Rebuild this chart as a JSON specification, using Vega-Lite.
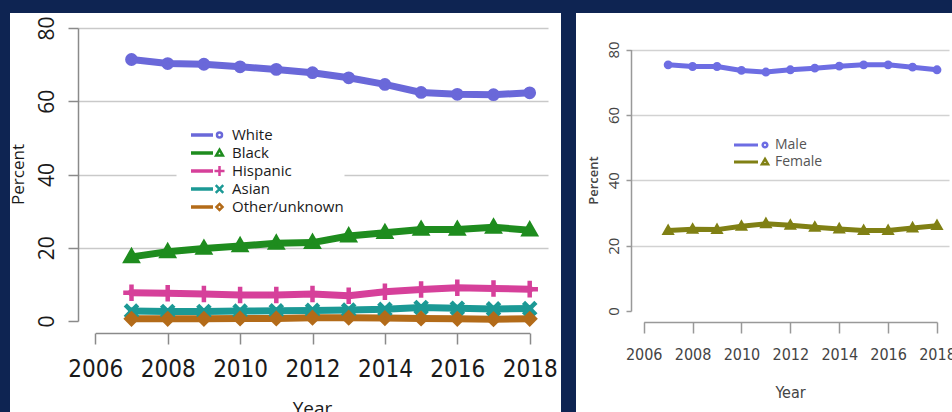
{
  "$schema": "https://vega.github.io/schema/vega-lite/v6.json",
  "background": "#0e2452",
  "padding": {"left": 9, "top": 13, "right": 0, "bottom": 0},
  "spacing": 15,
  "bounds": "flush",
  "datasets": {
    "race": [
      {"Year": 2007, "Group": "White", "Percent": 71.4}, {"Year": 2008, "Group": "White", "Percent": 70.3}, {"Year": 2009, "Group": "White", "Percent": 70.1}, {"Year": 2010, "Group": "White", "Percent": 69.4}, {"Year": 2011, "Group": "White", "Percent": 68.7}, {"Year": 2012, "Group": "White", "Percent": 67.8}, {"Year": 2013, "Group": "White", "Percent": 66.4}, {"Year": 2014, "Group": "White", "Percent": 64.6}, {"Year": 2015, "Group": "White", "Percent": 62.4}, {"Year": 2016, "Group": "White", "Percent": 61.9}, {"Year": 2017, "Group": "White", "Percent": 61.8}, {"Year": 2018, "Group": "White", "Percent": 62.3},
      {"Year": 2007, "Group": "Black", "Percent": 17.5}, {"Year": 2008, "Group": "Black", "Percent": 18.9}, {"Year": 2009, "Group": "Black", "Percent": 19.8}, {"Year": 2010, "Group": "Black", "Percent": 20.5}, {"Year": 2011, "Group": "Black", "Percent": 21.2}, {"Year": 2012, "Group": "Black", "Percent": 21.4}, {"Year": 2013, "Group": "Black", "Percent": 23.2}, {"Year": 2014, "Group": "Black", "Percent": 24.1}, {"Year": 2015, "Group": "Black", "Percent": 25.0}, {"Year": 2016, "Group": "Black", "Percent": 25.0}, {"Year": 2017, "Group": "Black", "Percent": 25.6}, {"Year": 2018, "Group": "Black", "Percent": 24.8},
      {"Year": 2007, "Group": "Hispanic", "Percent": 7.7}, {"Year": 2008, "Group": "Hispanic", "Percent": 7.6}, {"Year": 2009, "Group": "Hispanic", "Percent": 7.4}, {"Year": 2010, "Group": "Hispanic", "Percent": 7.1}, {"Year": 2011, "Group": "Hispanic", "Percent": 7.1}, {"Year": 2012, "Group": "Hispanic", "Percent": 7.4}, {"Year": 2013, "Group": "Hispanic", "Percent": 6.9}, {"Year": 2014, "Group": "Hispanic", "Percent": 8.0}, {"Year": 2015, "Group": "Hispanic", "Percent": 8.6}, {"Year": 2016, "Group": "Hispanic", "Percent": 9.1}, {"Year": 2017, "Group": "Hispanic", "Percent": 8.9}, {"Year": 2018, "Group": "Hispanic", "Percent": 8.7},
      {"Year": 2007, "Group": "Asian", "Percent": 2.7}, {"Year": 2008, "Group": "Asian", "Percent": 2.6}, {"Year": 2009, "Group": "Asian", "Percent": 2.6}, {"Year": 2010, "Group": "Asian", "Percent": 2.7}, {"Year": 2011, "Group": "Asian", "Percent": 2.8}, {"Year": 2012, "Group": "Asian", "Percent": 2.9}, {"Year": 2013, "Group": "Asian", "Percent": 3.0}, {"Year": 2014, "Group": "Asian", "Percent": 3.2}, {"Year": 2015, "Group": "Asian", "Percent": 3.7}, {"Year": 2016, "Group": "Asian", "Percent": 3.5}, {"Year": 2017, "Group": "Asian", "Percent": 3.3}, {"Year": 2018, "Group": "Asian", "Percent": 3.4},
      {"Year": 2007, "Group": "Other/unknown", "Percent": 0.6}, {"Year": 2008, "Group": "Other/unknown", "Percent": 0.6}, {"Year": 2009, "Group": "Other/unknown", "Percent": 0.6}, {"Year": 2010, "Group": "Other/unknown", "Percent": 0.7}, {"Year": 2011, "Group": "Other/unknown", "Percent": 0.7}, {"Year": 2012, "Group": "Other/unknown", "Percent": 0.9}, {"Year": 2013, "Group": "Other/unknown", "Percent": 0.9}, {"Year": 2014, "Group": "Other/unknown", "Percent": 0.8}, {"Year": 2015, "Group": "Other/unknown", "Percent": 0.7}, {"Year": 2016, "Group": "Other/unknown", "Percent": 0.6}, {"Year": 2017, "Group": "Other/unknown", "Percent": 0.5}, {"Year": 2018, "Group": "Other/unknown", "Percent": 0.6}
    ],
    "sex": [
      {"Year": 2007, "Sex": "Male", "Percent": 75.3}, {"Year": 2008, "Sex": "Male", "Percent": 74.8}, {"Year": 2009, "Sex": "Male", "Percent": 74.8}, {"Year": 2010, "Sex": "Male", "Percent": 73.6}, {"Year": 2011, "Sex": "Male", "Percent": 73.1}, {"Year": 2012, "Sex": "Male", "Percent": 73.8}, {"Year": 2013, "Sex": "Male", "Percent": 74.3}, {"Year": 2014, "Sex": "Male", "Percent": 74.9}, {"Year": 2015, "Sex": "Male", "Percent": 75.3}, {"Year": 2016, "Sex": "Male", "Percent": 75.3}, {"Year": 2017, "Sex": "Male", "Percent": 74.6}, {"Year": 2018, "Sex": "Male", "Percent": 73.8},
      {"Year": 2007, "Sex": "Female", "Percent": 24.6}, {"Year": 2008, "Sex": "Female", "Percent": 25.0}, {"Year": 2009, "Sex": "Female", "Percent": 24.9}, {"Year": 2010, "Sex": "Female", "Percent": 25.9}, {"Year": 2011, "Sex": "Female", "Percent": 26.7}, {"Year": 2012, "Sex": "Female", "Percent": 26.2}, {"Year": 2013, "Sex": "Female", "Percent": 25.6}, {"Year": 2014, "Sex": "Female", "Percent": 25.1}, {"Year": 2015, "Sex": "Female", "Percent": 24.6}, {"Year": 2016, "Sex": "Female", "Percent": 24.6}, {"Year": 2017, "Sex": "Female", "Percent": 25.4}, {"Year": 2018, "Sex": "Female", "Percent": 26.1}
    ]
  },
  "hconcat": [
    {
      "width": 551,
      "height": 399,
      "view": {"fill": "white", "stroke": null},
      "data": {"name": "race"},
      "layer": [
        {
          "mark": {"type": "point", "opacity": 0},
          "encoding": {
            "x": {"field": "Year", "type": "quantitative", "scale": {"domain": [2006, 2018], "range": [68, 538], "nice": false, "zero": false}, "axis": null},
            "y": {"field": "Percent", "type": "quantitative", "scale": {"domain": [0, 80], "range": [308, 15], "nice": false}, "axis": {"orient": "left", "values": [20, 40, 60, 80], "grid": true, "domain": false, "ticks": false, "labels": false, "title": null, "gridColor": "#c9c9c9", "gridWidth": 1.5, "gridDash": {"condition": {"test": "datum.value === 40", "value": [98, 168, 204]}, "value": []}}}
          }
        },
        {
          "layer": [
            {
              "mark": {"type": "line", "strokeWidth": 7, "strokeCap": "round", "strokeJoin": "round"},
              "encoding": {
                "x": {"field": "Year", "type": "quantitative", "scale": {"domain": [2006, 2018], "range": [85.3, 519.7], "nice": false, "zero": false},
                  "axis": {"orient": "bottom", "offset": -79, "values": [2006, 2008, 2010, 2012, 2014, 2016, 2018], "format": "d", "grid": false, "domainColor": "#8a8a8a", "domainWidth": 1.5, "tickColor": "#8a8a8a", "tickWidth": 1.5, "tickSize": 11, "labelFont": "Liberation Sans Narrow, DejaVu Sans Condensed, sans-serif", "labelFontSize": 24, "labelColor": "#1a1a1a", "labelPadding": 13, "labelFlush": false, "labelOverlap": false, "title": "Year", "titleFont": "Open Sans", "titleFontSize": 19, "titleFontWeight": "normal", "titleColor": "#1a1a1a", "titleX": 302, "titleY": 66, "titleBaseline": "top", "titleAlign": "center"}},
                "y": {"field": "Percent", "type": "quantitative", "scale": {"domain": [0, 80], "range": [308, 15], "nice": false},
                  "axis": {"orient": "left", "offset": -68, "values": [0, 20, 40, 60, 80], "grid": false, "domainColor": "#8a8a8a", "domainWidth": 1.5, "tickColor": "#8a8a8a", "tickWidth": 1.5, "tickSize": 10, "labelAngle": -90, "labelAlign": "center", "labelBaseline": "middle", "labelPadding": 21, "labelFont": "Open Sans", "labelFontSize": 21, "labelColor": "#1a1a1a", "title": "Percent", "titleFont": "Open Sans", "titleFontSize": 17, "titleFontWeight": "normal", "titleColor": "#1a1a1a", "titleAngle": -90, "titleX": -60, "titleY": 161, "titleAlign": "center", "titleBaseline": "middle"}},
                "stroke": {"field": "Group", "type": "nominal", "sort": ["White", "Black", "Hispanic", "Asian", "Other/unknown"], "scale": {"range": ["#6a68d9", "#1e8c1e", "#d6409a", "#1b9995", "#b36b19"]},
                  "legend": {"orient": "none", "legendX": 179, "legendY": 113, "title": null, "padding": 0, "rowPadding": 0, "clipHeight": 18, "symbolType": "stroke", "symbolSize": 484, "symbolStrokeWidth": 3.5, "labelOpacity": 0, "labelFont": "Open Sans", "labelFontSize": 15}}
              }
            },
            {
              "mark": {"type": "point", "filled": false, "strokeWidth": 4.5, "size": 190, "opacity": 1},
              "encoding": {
                "x": {"field": "Year", "type": "quantitative", "scale": {"domain": [2006, 2018], "range": [85.3, 519.7], "nice": false, "zero": false}},
                "y": {"field": "Percent", "type": "quantitative", "scale": {"domain": [0, 80], "range": [308, 15], "nice": false}},
                "color": {"field": "Group", "type": "nominal", "scale": {"domain": ["White", "Black", "Hispanic", "Asian", "Other/unknown"], "range": ["#6a68d9", "#1e8c1e", "#d6409a", "#1b9995", "#b36b19"]},
                  "legend": {"orient": "none", "legendX": 202, "legendY": 113, "title": null, "padding": 0, "rowPadding": 0, "clipHeight": 18, "symbolSize": 70, "symbolStrokeWidth": 2.5, "labelFont": "Open Sans", "labelFontSize": 15, "labelColor": "#1a1a1a", "labelOffset": 5, "labelLimit": 0}},
                "shape": {"field": "Group", "type": "nominal", "scale": {"domain": ["White", "Black", "Hispanic", "Asian", "Other/unknown"], "range": ["M0.6,0A0.6,0.6,0,1,1,-0.6,0A0.6,0.6,0,1,1,0.6,0Z", "M0,-0.8L0.8,0.6L-0.8,0.6Z", "M-1.2,0L1.2,0M0,-1.2L0,1.2", "M-0.9,-0.9L0.9,0.9M-0.9,0.9L0.9,-0.9", "M0,-0.72L0.72,0L0,0.72L-0.72,0Z"]},
                  "legend": {"orient": "none", "legendX": 202, "legendY": 113, "title": null, "padding": 0, "rowPadding": 0, "clipHeight": 18, "symbolSize": 70, "symbolStrokeWidth": 2.5, "labelFont": "Open Sans", "labelFontSize": 15, "labelColor": "#1a1a1a", "labelOffset": 5, "labelLimit": 0}}
              }
            }
          ]
        }
      ],
      "resolve": {"scale": {"x": "independent", "y": "independent"}, "axis": {"x": "independent", "y": "independent"}}
    },
    {
      "width": 377,
      "height": 399,
      "view": {"fill": "white", "stroke": null},
      "data": {"name": "sex"},
      "layer": [
        {
          "mark": {"type": "point", "opacity": 0},
          "encoding": {
            "x": {"field": "Year", "type": "quantitative", "scale": {"domain": [2006, 2018], "range": [55, 373], "nice": false, "zero": false}, "axis": null},
            "y": {"field": "Percent", "type": "quantitative", "scale": {"domain": [0, 80], "range": [298, 36.5], "nice": false}, "axis": {"orient": "left", "values": [20, 40, 60, 80], "grid": true, "domain": false, "ticks": false, "labels": false, "title": null, "gridColor": "#d2d2d2", "gridWidth": 1.5}}
          }
        },
        {
          "layer": [
            {
              "mark": {"type": "line", "strokeWidth": 5, "strokeCap": "round", "strokeJoin": "round"},
              "encoding": {
                "x": {"field": "Year", "type": "quantitative", "scale": {"domain": [2006, 2018], "range": [67.7, 361], "nice": false, "zero": false},
                  "axis": {"orient": "bottom", "offset": -90, "values": [2006, 2008, 2010, 2012, 2014, 2016, 2018], "format": "d", "grid": false, "domainColor": "#999999", "domainWidth": 1.5, "tickColor": "#999999", "tickWidth": 1.5, "tickSize": 11, "labelFont": "Liberation Sans Narrow, DejaVu Sans Condensed, sans-serif", "labelFontSize": 16, "labelColor": "#444444", "labelPadding": 13, "labelFlush": false, "labelOverlap": false, "title": "Year", "titleFont": "Liberation Sans Narrow, DejaVu Sans Condensed, sans-serif", "titleFontSize": 16, "titleFontWeight": "normal", "titleColor": "#444444", "titleX": 214, "titleY": 70, "titleBaseline": "middle", "titleAlign": "center"}},
                "y": {"field": "Percent", "type": "quantitative", "scale": {"domain": [0, 80], "range": [298, 36.5], "nice": false},
                  "axis": {"orient": "left", "offset": -55, "values": [0, 20, 40, 60, 80], "grid": false, "domainColor": "#999999", "domainWidth": 1.5, "tickColor": "#999999", "tickWidth": 1.5, "tickSize": 5, "labelAngle": -90, "labelAlign": "center", "labelBaseline": "middle", "labelPadding": 13, "labelFont": "Open Sans", "labelFontSize": 15, "labelColor": "#444444", "title": "Percent", "titleFont": "Open Sans", "titleFontSize": 13, "titleFontWeight": 600, "titleColor": "#444444", "titleAngle": -90, "titleX": -38, "titleY": 167, "titleAlign": "center", "titleBaseline": "middle"}},
                "stroke": {"field": "Sex", "type": "nominal", "sort": ["Male", "Female"], "scale": {"range": ["#6d6de3", "#808014"]},
                  "legend": {"orient": "none", "legendX": 156.5, "legendY": 123.5, "title": null, "padding": 0, "rowPadding": 0, "clipHeight": 17, "symbolType": "stroke", "symbolSize": 576, "symbolStrokeWidth": 3, "labelOpacity": 0, "labelFont": "Open Sans", "labelFontSize": 14}}
              }
            },
            {
              "mark": {"type": "point", "filled": false, "strokeWidth": 3.5, "size": 80, "opacity": 1},
              "encoding": {
                "x": {"field": "Year", "type": "quantitative", "scale": {"domain": [2006, 2018], "range": [67.7, 361], "nice": false, "zero": false}},
                "y": {"field": "Percent", "type": "quantitative", "scale": {"domain": [0, 80], "range": [298, 36.5], "nice": false}},
                "color": {"field": "Sex", "type": "nominal", "scale": {"domain": ["Male", "Female"], "range": ["#6d6de3", "#808014"]},
                  "legend": {"orient": "none", "legendX": 182, "legendY": 123.5, "title": null, "padding": 0, "rowPadding": 0, "clipHeight": 17, "symbolSize": 60, "symbolStrokeWidth": 2.5, "labelFont": "Open Sans", "labelFontSize": 14, "labelColor": "#555555", "labelOffset": 3, "labelLimit": 0}},
                "shape": {"field": "Sex", "type": "nominal", "scale": {"domain": ["Male", "Female"], "range": ["M0.6,0A0.6,0.6,0,1,1,-0.6,0A0.6,0.6,0,1,1,0.6,0Z", "M0,-0.8L0.8,0.6L-0.8,0.6Z"]},
                  "legend": {"orient": "none", "legendX": 182, "legendY": 123.5, "title": null, "padding": 0, "rowPadding": 0, "clipHeight": 17, "symbolSize": 60, "symbolStrokeWidth": 2.5, "labelFont": "Open Sans", "labelFontSize": 14, "labelColor": "#555555", "labelOffset": 3, "labelLimit": 0}}
              }
            }
          ]
        }
      ],
      "resolve": {"scale": {"x": "independent", "y": "independent"}, "axis": {"x": "independent", "y": "independent"}}
    }
  ],
  "resolve": {"scale": {"color": "independent", "stroke": "independent", "shape": "independent"}, "legend": {"color": "independent", "stroke": "independent", "shape": "independent"}},
  "config": {"view": {"stroke": null}}
}
